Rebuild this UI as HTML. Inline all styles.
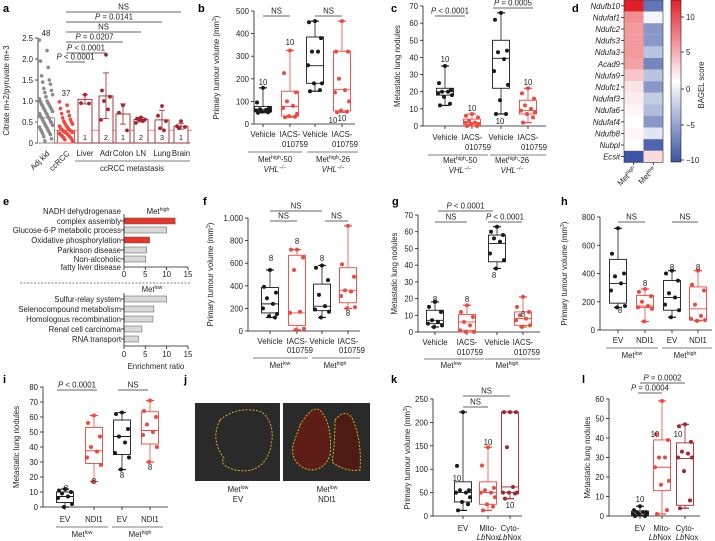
<!DOCTYPE html>
<html><head><meta charset="utf-8"><style>
html,body{margin:0;padding:0;background:#fff}
svg{display:block;font-family:"Liberation Sans",sans-serif}
</style></head><body>
<svg id="fig" width="715" height="541" viewBox="0 0 715 541" xmlns="http://www.w3.org/2000/svg">
<rect x="0" y="0" width="715" height="541" fill="#fff"/>
</svg>
<script>
// ---------- DATA ----------
const aCats=['Adj kid','ccRCC','Liver','Adr','Colon','LN','Lung','Brain'];
const aTicks=[0,0.5,1,1.5,2,2.5];
const aTickLabels=['0','0.5','1.0','1.5','2.0','2.5'];
const aAdj=[2.45,2.2,1.95,1.8,1.6,1.5,1.45,1.4,1.3,1.25,1.2,1.15,1.1,1.05,1.0,0.98,0.95,0.92,0.9,0.88,0.85,0.82,0.8,0.78,0.75,0.72,0.7,0.68,0.65,0.62,0.6,0.58,0.55,0.52,0.5,0.48,0.45,0.42,0.4,0.38,0.35,0.32,0.3,0.28,0.25,0.22,0.2,0.15,0.1,0.05];
const aCc=[0.98,0.9,0.82,0.75,0.7,0.65,0.6,0.56,0.52,0.5,0.47,0.45,0.42,0.4,0.38,0.36,0.35,0.33,0.32,0.3,0.29,0.28,0.27,0.26,0.25,0.24,0.23,0.22,0.2,0.19,0.18,0.16,0.15,0.13,0.12,0.1,0.08,0.05];
const aMeans=[0.6,0.3,1.04,1.12,0.69,0.56,0.55,0.40];
const aErrHi=[null,null,1.15,1.67,0.93,0.61,0.78,0.47];
const aErrLo=[null,null,0.93,0.58,0.45,0.5,0.33,0.33];
const aMetPts=[[],[],[1.15,0.95,0.94],[2.1,1.25,1.1,1.0,0.8,0.55],[0.9,0.72,0.3],[0.61,0.58,0.56,0.55,0.52,0.48],[0.88,0.65,0.52,0.35,0.3],[0.52,0.4,0.38,0.35]];
const aN=['','','1','2','1','2','3','1'];

const bTicks=[0,100,200,300,400,500];
const bQ1=[55,35,180,58], bMed=[65,78,258,152], bQ3=[78,145,385,322];
const bPts=[[160,95,70,65,62,60,58,55,52,50],[325,225,140,100,80,70,45,35,32,30],[455,450,380,320,320,260,180,180,150,145],[455,320,320,200,150,140,100,60,55,52]];

const cTicks=[0,10,20,30,40,50,60,70];
const cQ1=[18,1,22,7], cMed=[20,2,39.5,9], cQ3=[22,4,50,15];
const cPts=[[35,25,21,20,20,19,18,17,13,12],[7,6,5,3,2,2,1,1,0,0],[66,62,44,43,39,32,24,15,7,7],[22,19,16,12,10,9,8,7,5,2]];

const dGenes=['Ndufb10','Ndufaf1','Ndufc2','Ndufs3','Ndufa3','Acad9','Ndufa9','Ndufc1','Ndufaf3','Ndufa6','Ndufaf4','Ndufb8','Nubpl','Ecsit'];
const dHigh=[12,6,5.5,5.5,5.5,5,3,1.5,1,0.5,0,0.5,0,-10];
const dLow=[-8,-0.5,-6,-6,-3.5,-7,-3.5,-6,-3,-4,-6,-1.5,-9,2];

const eHighVals=[12,10,6,5.3,5.1];
const eLowLabels=['Sulfur-relay system','Selenocompound metabolism','Homologous recombination','Renal cell carcinoma','RNA transport'];
const eLowVals=[10,7,6.8,4.2,3.4];

const fTicks=[0,200,400,600,800,1000];
const fQ1=[160,50,180,250], fMed=[240,160,220,360], fQ3=[385,670,415,560];
const fPts=[[540,390,340,290,240,200,150,130,120],[720,720,650,540,170,160,20,10],[580,560,450,320,220,190,170,120],[930,590,480,360,350,310,210,200]];

const gTicks=[0,10,20,30,40,50,60,70];
const gQ1=[5,1,42,4], gMed=[7,6,53,8], gQ3=[13,10.5,58,12];
const gPts=[[18,15,12,7,6,5,4,3],[16,12,9,6,4,1,0,0],[63,60,58,56,54,47,43,38],[21,15,12,10,8,7,4,3]];

const hTicks=[0,200,400,600,800];
const hQ1=[190,160,140,70], hMed=[330,170,230,150], hQ3=[500,245,350,305];
const hPts=[[720,540,400,380,330,280,170,160],[290,270,240,200,170,160,150,60],[420,400,350,260,230,180,140,90],[420,320,280,180,100,80,70,65]];

const iTicks=[0,10,20,30,40,50,60,70,80];
const iQ1=[3,29,35,42], iMed=[7,37.5,47,51], iQ3=[10,53,58,63.5];
const iPts=[[12,11,10,9,7,6,2,0],[61,56,47,40,37,33,28,17],[63,62,52,47,43,36,33,25],[71,64,60,55,50,48,40,30]];

const kTicks=[0,50,100,150,200,250];
const kQ1=[30,25,50], kMed=[50,50,62], kQ3=[73,73,222];
const kPts=[[222,107,55,55,50,50,40,30,25,12],[147,108,60,55,50,50,40,25,20,12],[222,222,222,147,62,50,50,50,48,37]];

const lTicks=[0,10,20,30,40,50,60];
const lQ1=[0.5,13,5.5], lMed=[1.5,25,29.5], lQ3=[2.5,39,37.5];
const lPts=[[5,3,2,2,2,1,1,1,0,0],[59,42,39,30,30,25,18,16,3,1],[47,46,38,33,32,30,30,23,8,4]];

// ---------- DRAWING ----------
const NS='http://www.w3.org/2000/svg';
const S=document.getElementById('fig');
const K='#1a1a1a', R='#f0483e', DR='#a3262c', G='#8a8a8a';
function mk(tag,a){const e=document.createElementNS(NS,tag);for(const k in a)e.setAttribute(k,a[k]);S.appendChild(e);return e;}
function ln(x1,y1,x2,y2,c,w){const e=mk('line',{x1:x1,y1:y1,x2:x2,y2:y2,stroke:c||K,'stroke-width':w||0.8});


return e;}
function tx(x,y,s,o){o=o||{};const e=mk('text',{x:x,y:y,'font-size':o.fs||7.8,'text-anchor':o.a||'middle',fill:o.c||'#222'});
if(o.b)e.setAttribute('font-weight','bold');
if(o.it)e.setAttribute('font-style','italic');
if(o.rot!==undefined)e.setAttribute('transform','rotate('+o.rot+' '+x+' '+y+')');
e.innerHTML=s;


return e;}
const SUPH='Met<tspan font-size="5.2" dy="-3">high</tspan>';
const SUPL='Met<tspan font-size="5.2" dy="-3">low</tspan>';
function yAxis(x,yb,yt,max,ticks,labels,title,tx0){
  const f=v=>yb-(v/max)*(yb-yt);
  ln(x,yb,x,yt);
  ticks.forEach((t,i)=>{ln(x-3,f(t),x,f(t));tx(x-5,f(t)+3,labels?labels[i]:String(t),{a:'end'});});
  if(title)tx(tx0,(yb+yt)/2,title,{rot:-90});
  return f;}
function xAxis(x1,x2,y){ln(x1,y,x2,y);}
function box(cx,f,pts,q1,med,q3,col,w){
  w=w||17;
  const mn=Math.min(...pts),mx=Math.max(...pts);
  ln(cx,f(mn),cx,f(q1),col);ln(cx,f(q3),cx,f(mx),col);
  ln(cx-4,f(mn),cx+4,f(mn),col,1.2);ln(cx-4,f(mx),cx+4,f(mx),col,1.2);
  const r=mk('rect',{x:cx-w/2,y:f(q3),width:w,height:Math.max(0.5,f(q1)-f(q3)),fill:'#fff','fill-opacity':0.6,stroke:col,'stroke-width':0.9});
  
  
  ln(cx-w/2,f(med),cx+w/2,f(med),col,0.9);
  const off=[0,-6,6,-3,3,-7,7,-1,5,-5];
  pts.forEach((v,i)=>{const c=mk('circle',{cx:cx+off[i%10],cy:f(v),r:2,fill:col});
    
    });
}
function sig(x1,x2,y,label){ln(x1,y,x2,y,'#333',0.8);tx((x1+x2)/2,y-2.5,label);}
const PL='<tspan font-style="italic">P</tspan> &lt; 0.0001';
function PE(v){return '<tspan font-style="italic">P</tspan> = '+v;}
function boxPanel(ax,yb,yt,max,ticks,labels,title,tx0,cats,Q1,MED,Q3,PTS,cols,xend){
  const f=yAxis(ax,yb,yt,max,ticks,labels,title,tx0);
  xAxis(ax,xend,yb);
  cats.forEach((cx,i)=>{ln(cx,yb,cx,yb+3);box(cx,f,PTS[i],Q1[i],MED[i],Q3[i],cols[i]);});
  return f;}

// panel letters
[['a',3,12],['b',198,12],['c',391,12],['d',572,12],['e',3,205],['f',203,205],['g',392,205],['h',561,205],['i',3,383],['j',184,383],['k',391,383],['l',582,383]].forEach(p=>tx(p[1],p[2],p[0],{fs:11,b:true,a:'start',c:'#000'}));

// ---- panel a ----
(function(){
  const ax=38,yb=143,yt=38;
  const f=yAxis(ax,yb,yt,2.5,aTicks,aTickLabels,'Citrate m+2/pyruvate m+3',9);
  xAxis(ax,190,yb);
  const xs=[46,66,85,106,123,141,162,181];
  const pr=mk('line',{x1:38,y1:f(0.3),x2:192,y2:f(0.3),stroke:'#f4a3a3','stroke-width':1.2});
  
  
  aCats.forEach((c,i)=>{
    const cx=xs[i];
    const col=i===0?G:(i===1?R:DR);
    const bw=i<2?17:14;
    const r=mk('rect',{x:cx-bw/2,y:f(aMeans[i]),width:bw,height:yb-f(aMeans[i]),fill:'#fff',stroke:col,'stroke-width':0.9});
    
    
    if(aErrHi[i]!==null){ln(cx,f(aErrHi[i]),cx,f(aErrLo[i]),col);ln(cx-3,f(aErrHi[i]),cx+3,f(aErrHi[i]),col);ln(cx-3,f(aErrLo[i]),cx+3,f(aErrLo[i]),col);}
    const pts=i===0?aAdj:(i===1?aCc:aMetPts[i]);
    pts.forEach((v,j)=>{const jx=i<2?((j*7)%13-6)*1.1:[0,-4,4,-2,2,-5][j%6];
      const c=mk('circle',{cx:cx+jx,cy:f(v),r:i<2?1.8:1.9,fill:col});
      
      });
    if(aN[i])tx(cx,140,aN[i],{fs:7.5});
    if(i<2)tx(cx+4,154,c,{a:'end',rot:-45});else tx(cx,156,c);
  });
  tx(46,36,'48');tx(66,96,'37');
  ln(75,161,190,161,'#555');tx(132,171,'ccRCC metastasis');
  sig(66,181,12,'NS');sig(66,162,22,PE('0.0141'));sig(66,141,32,'NS');sig(66,123,42,PE('0.0207'));sig(66,106,53,PL);sig(66,85,62,PL);
})();

// ---- panel b ----
boxPanel(254,124,11,500,bTicks,null,'Primary tumour volume (mm<tspan font-size="5.2" dy="-3">3</tspan><tspan dy="3">)</tspan>',219,[263,290,315,342],bQ1,bMed,bQ3,bPts,[K,R,K,R],355);
tx(263,137,'Vehicle');tx(290,137,'IACS-');tx(295,147,'010759');tx(315,137,'Vehicle');tx(342,137,'IACS-');tx(345,147,'010759');
ln(248,152,302,152,'#555');ln(307,152,358,152,'#555');
tx(275,162,SUPH+'<tspan dy="3">-50</tspan>');tx(275,172,'VHL<tspan font-size="5.2" dy="-3">−/−</tspan>',{it:true});
tx(333,162,SUPH+'<tspan dy="3">-26</tspan>');tx(333,172,'VHL<tspan font-size="5.2" dy="-3">−/−</tspan>',{it:true});
sig(263,290,16,'NS');sig(315,342,16,'NS');
tx(263,85,'10');tx(290,45,'10');tx(333,123,'10');tx(342,121,'10');

// ---- panel c ----
boxPanel(423,126,6,70,cTicks,null,'Metastatic lung nodules',400,[445,472,501,528],cQ1,cMed,cQ3,cPts,[K,R,K,R],546);
tx(445,140,'Vehicle');tx(472,140,'IACS-');tx(478,150,'010759');tx(501,140,'Vehicle');tx(528,140,'IACS-');tx(534,150,'010759');
ln(428,155,488,155,'#555');ln(490,155,546,155,'#555');
tx(460,163,SUPH+'<tspan dy="3">-50</tspan>');tx(460,173,'VHL<tspan font-size="5.2" dy="-3">−/−</tspan>',{it:true});
tx(512,163,SUPH+'<tspan dy="3">-26</tspan>');tx(512,173,'VHL<tspan font-size="5.2" dy="-3">−/−</tspan>',{it:true});
sig(435,465,16,PL);sig(493,533,8,PE('0.0005'));
tx(445,62,'10');tx(472,111,'10');tx(500,124,'10');tx(528,85,'10');

// ---- panel d ----
(function(){
  const x0=624,cw=19.5,y0=0,rh=11.6;
  function col(v){let c1,t;if(v>=0){c1=[227,32,40];t=Math.min(1,v/12);}else{c1=[59,84,165];t=Math.min(1,-v/10);}
    return 'rgb('+[0,1,2].map(k=>Math.round(255+(c1[k]-255)*t)).join(',')+')';}
  dGenes.forEach((g,i)=>{
    [dHigh[i],dLow[i]].forEach((v,j)=>{const r=mk('rect',{x:x0+j*cw,y:y0+i*rh,width:cw,height:rh,fill:col(v)});
      
      });
    ln(x0-3,y0+i*rh+rh/2,x0,y0+i*rh+rh/2);
    tx(x0-4,y0+i*rh+rh/2+3,g,{a:'end',it:true});
  });
  const o=mk('rect',{x:x0,y:y0,width:2*cw,height:14*rh,fill:'none',stroke:'#333','stroke-width':0.6});
  
  
  ln(x0+cw/2,162.4,x0+cw/2,165);ln(x0+1.5*cw,162.4,x0+1.5*cw,165);
  tx(x0+cw/2+3,170,SUPH,{a:'end',rot:-45});tx(x0+1.5*cw+3,170,SUPL,{a:'end',rot:-45});
  const defs=mk('defs',{});
  defs.innerHTML='<linearGradient id="cb" x1="0" y1="0" x2="0" y2="1"><stop offset="0" stop-color="#e3202a"/><stop offset="0.5" stop-color="#fff"/><stop offset="1" stop-color="#3b54a5"/></linearGradient>';
  const cb=mk('rect',{x:671,y:0,width:10,height:162,fill:'url(#cb)',stroke:'#222','stroke-width':0.6});
  
  
  [[10,17],[5,52],[0,89],[-5,125],[-10,160]].forEach(t=>{ln(681,t[1],684,t[1]);tx(686,t[1]+3,t[0]===-5?'−5':t[0]===-10?'−10':String(t[0]),{a:'start'});});
  tx(704,85,'BAGEL score',{rot:-90});
})();

// ---- panel e ----
(function(){
  const ax=124,sc=64/15;
  function hbars(rows,vals,cols){rows.forEach((y,i)=>{const r=mk('rect',{x:ax,y:y-3,width:vals[i]*sc,height:6,fill:cols[i],stroke:'#555','stroke-width':0.5});
    
    
    ln(ax-3,y,ax,y);});}
  const topRows=[221,230,240,250,259];
  hbars(topRows,eHighVals,['#e8352a','#d9d9d9','#e8352a','#d9d9d9','#d9d9d9']);
  ln(ax,214,ax,267);ln(ax,267,ax+64,267);
  [0,5,10,15].forEach(t=>{ln(ax+t*sc,267,ax+t*sc,270);tx(ax+t*sc,277,String(t));});
  tx(121,214,'NADH dehydrogenase',{a:'end'});tx(121,224,'complex assembly',{a:'end'});tx(121,233,'Glucose-6-P metabolic process',{a:'end'});
  tx(121,243,'Oxidative phosphorylation',{a:'end'});tx(121,253,'Parkinson disease',{a:'end'});tx(121,262,'Non-alcoholic',{a:'end'});tx(121,270,'fatty liver disease',{a:'end'});
  tx(158,214,SUPH);
  const d=mk('line',{x1:20,y1:283,x2:190,y2:283,stroke:'#555','stroke-width':0.7,'stroke-dasharray':'2,1.5'});
  
  
  tx(152,292,SUPL);
  const botRows=[299,309,319,329,339];
  hbars(botRows,eLowVals,['#d9d9d9','#d9d9d9','#d9d9d9','#d9d9d9','#d9d9d9']);
  eLowLabels.forEach((s,i)=>tx(121,botRows[i]+3,s,{a:'end'}));
  ln(ax,293,ax,346);ln(ax,346,ax+64,346);
  [0,5,10,15].forEach(t=>{ln(ax+t*sc,346,ax+t*sc,349);tx(ax+t*sc,357,String(t));});
  tx(156,369,'Enrichment ratio');
})();

// ---- panel f ----
boxPanel(248,331,218,1000,fTicks,['0','200','400','600','800','1,000'],'Primary tumour volume (mm<tspan font-size="5.2" dy="-3">3</tspan><tspan dy="3">)</tspan>',213,[270,297,322,348],fQ1,fMed,fQ3,fPts,[K,R,K,R],360);
tx(270,344,'Vehicle');tx(297,344,'IACS-');tx(300,353,'010759');tx(322,344,'Vehicle');tx(348,344,'IACS-');tx(352,353,'010759');
ln(253,358,308,358,'#555');ln(312,358,360,358,'#555');
tx(280,368,SUPL);tx(335,368,SUPH);
sig(270,322,211,'NS');sig(270,297,221,'NS');sig(325,348,221,'NS');
tx(271,261,'8');tx(297,244,'8');tx(322,261,'8');tx(348,316,'8');

// ---- panel g ----
boxPanel(418,332,215,70,gTicks,null,'Metastatic lung nodules',397,[435,467,497,523],gQ1,gMed,gQ3,gPts,[K,R,K,R],540);
tx(435,345,'Vehicle');tx(467,345,'IACS-');tx(470,355,'010759');tx(497,345,'Vehicle');tx(523,345,'IACS-');tx(527,355,'010759');
ln(424,359,484,359,'#555');ln(485,359,540,359,'#555');
tx(451,368,SUPL);tx(507,368,SUPH);
sig(438,493,211,PL);sig(435,467,222,'NS');sig(488,522,222,PL);
tx(435,302,'8');tx(467,302,'8');tx(494,278,'8');tx(523,317,'8');

// ---- panel h ----
boxPanel(600,330,217,800,hTicks,null,'Primary tumour volume (mm<tspan font-size="5.2" dy="-3">3</tspan><tspan dy="3">)</tspan>',567,[618,645,672,698],hQ1,hMed,hQ3,hPts,[K,R,K,R],712);
tx(618,343,'EV');tx(645,343,'NDI1');tx(672,343,'EV');tx(698,343,'NDI1');
ln(606,348,658,348,'#555');ln(662,348,712,348,'#555');
tx(632,358,SUPL);tx(685,358,SUPH);
sig(618,645,222,'NS');sig(672,698,222,'NS');
tx(620,313,'8');tx(645,286,'8');tx(672,270,'8');tx(698,270,'8');

// ---- panel i ----
boxPanel(43,507,387,80,iTicks,null,'Metastatic lung nodules',19,[65,94,122,150],iQ1,iMed,iQ3,iPts,[K,R,K,R],168);
tx(65,522,'EV');tx(94,522,'NDI1');tx(122,522,'EV');tx(150,522,'NDI1');
ln(56,527,108,527,'#555');ln(112,527,163,527,'#555');
tx(82,537,SUPL);tx(140,537,SUPH);
sig(57,97,390,PL);sig(118,148,390,'NS');
tx(66,491,'8');tx(94,484,'8');tx(122,478,'8');tx(150,470,'8');

// ---- panel j ----
(function(){
  [[195,85],[283,87]].forEach(function(p,k){const r=mk('rect',{x:p[0],y:403,width:p[1],height:78,fill:'#2a2a2a'});
    
    });
  const o1=mk('path',{d:'M220 420 Q238 405 262 412 Q277 425 270 450 Q262 475 235 470 Q218 465 224 458 Q210 440 220 420 Z',fill:'none',stroke:'#e8c51a','stroke-width':0.9,'stroke-dasharray':'2,1.5'});
  
  
  const o2=mk('path',{d:'M300 425 Q312 405 320 410 Q333 425 330 455 Q325 470 310 470 Q290 465 293 445 Z',fill:'#5e1d16',stroke:'#e8c51a','stroke-width':0.9,'stroke-dasharray':'2,1.5'});
  
  
  const o3=mk('path',{d:'M335 420 Q345 408 352 418 Q362 440 360 470 Q345 472 332 462 Q335 445 335 420 Z',fill:'#4e1a14',stroke:'#e8c51a','stroke-width':0.9,'stroke-dasharray':'2,1.5'});
  
  
  tx(238,492,SUPL);tx(238,502,'EV');tx(327,492,SUPL);tx(327,502,'NDI1');
})();

// ---- panel k ----
boxPanel(433,516,399,250,kTicks,null,'Primary tumour volume (mm<tspan font-size="5.2" dy="-3">3</tspan><tspan dy="3">)</tspan>',410,[463,488,510],kQ1,kMed,kQ3,kPts,[K,R,DR],522);
tx(463,531,'EV');tx(488,531,'Mito-');tx(510,531,'Cyto-');tx(488,540,'<tspan font-style="italic">Lb</tspan>Nox');tx(510,540,'<tspan font-style="italic">Lb</tspan>Nox');
sig(463,510,396,'NS');sig(463,488,407,'NS');
tx(457,481,'10');tx(488,445,'10');tx(510,508,'10');

// ---- panel l ----
boxPanel(609,516,399,60,lTicks,null,'Metastatic lung nodules',590,[640,662,685],lQ1,lMed,lQ3,lPts,[K,R,DR],700);
tx(640,531,'EV');tx(662,531,'Mito-');tx(685,531,'Cyto-');tx(660,540,'<tspan font-style="italic">Lb</tspan>Nox');tx(687,540,'<tspan font-style="italic">Lb</tspan>Nox');
sig(640,685,383,PE('0.0002'));sig(638,662,393,PE('0.0004'));
tx(640,502,'10');tx(655,437,'10');tx(678,437,'10');
</script>
</body></html>
